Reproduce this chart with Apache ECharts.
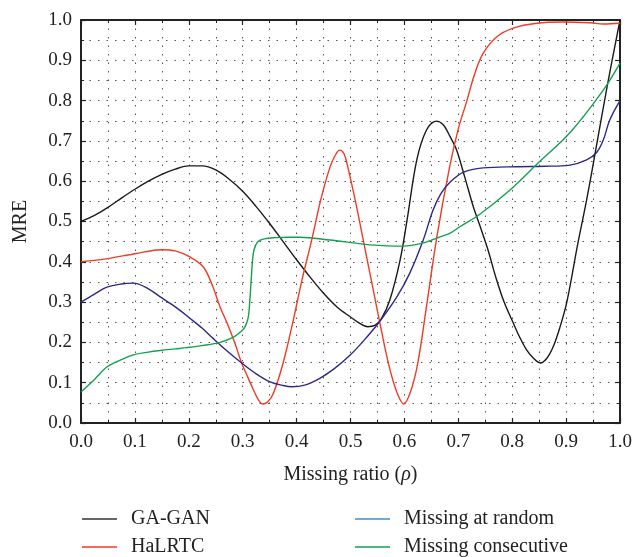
<!DOCTYPE html>
<html>
<head>
<meta charset="utf-8">
<script src="https://cdn.jsdelivr.net/npm/echarts@6/dist/echarts.min.js"></script>
<style>html,body{margin:0;padding:0;background:#fff;}#c{width:644px;height:557px;}</style>
</head>
<body>
<div id="c"></div>
<script>
const seriesNames = ['GA-GAN', 'HaLRTC', 'Missing at random', 'Missing consecutive'];
const xTicks = [0, 0.1, 0.2, 0.3, 0.4, 0.5, 0.6, 0.7, 0.8, 0.9, 1.0];

const gaGan = [
  [0.000,0.500],[0.025,0.515],[0.050,0.535],[0.075,0.558],[0.100,0.580],[0.125,0.600],
  [0.150,0.617],[0.175,0.630],[0.200,0.638],[0.225,0.638],[0.250,0.628],[0.275,0.605],
  [0.300,0.575],[0.325,0.537],[0.350,0.495],[0.375,0.450],[0.400,0.405],[0.425,0.362],
  [0.450,0.322],[0.475,0.288],[0.500,0.263],[0.515,0.249],[0.532,0.239],[0.545,0.242],
  [0.557,0.258],[0.573,0.305],[0.592,0.404],[0.605,0.504],[0.623,0.653],[0.641,0.727],
  [0.659,0.749],[0.672,0.740],[0.685,0.710],[0.697,0.677],[0.712,0.610],[0.728,0.536],
  [0.740,0.490],[0.755,0.430],[0.770,0.360],[0.785,0.300],[0.802,0.248],[0.815,0.210],
  [0.827,0.181],[0.840,0.160],[0.852,0.149],[0.864,0.160],[0.876,0.189],[0.888,0.235],
  [0.901,0.298],[0.922,0.447],[0.938,0.553],[0.954,0.670],[0.976,0.834],[1.000,1.000]
];
const halrtc = [
  [0.000,0.400],[0.050,0.408],[0.100,0.420],[0.150,0.430],[0.175,0.427],[0.202,0.412],
  [0.227,0.387],[0.245,0.337],[0.258,0.288],[0.271,0.248],[0.285,0.200],[0.298,0.149],
  [0.310,0.112],[0.320,0.082],[0.329,0.058],[0.337,0.047],[0.346,0.052],[0.357,0.074],
  [0.375,0.149],[0.394,0.256],[0.410,0.355],[0.428,0.454],[0.445,0.555],[0.462,0.635],
  [0.472,0.665],[0.480,0.677],[0.488,0.668],[0.495,0.635],[0.510,0.545],[0.525,0.445],
  [0.540,0.345],[0.555,0.245],[0.570,0.150],[0.585,0.080],[0.599,0.047],[0.612,0.080],
  [0.625,0.150],[0.640,0.280],[0.660,0.460],[0.684,0.636],[0.700,0.730],[0.716,0.800],
  [0.730,0.865],[0.746,0.917],[0.771,0.958],[0.802,0.980],[0.846,0.992],[0.894,0.995],
  [0.944,0.993],[0.969,0.990],[1.000,0.992]
];
const missingRandom = [
  [0.000,0.300],[0.025,0.320],[0.048,0.337],[0.075,0.345],[0.097,0.347],[0.125,0.333],
  [0.147,0.313],[0.175,0.288],[0.202,0.260],[0.225,0.235],[0.245,0.210],[0.270,0.180],
  [0.298,0.149],[0.325,0.122],[0.351,0.102],[0.375,0.093],[0.391,0.090],[0.415,0.094],
  [0.443,0.111],[0.470,0.135],[0.499,0.168],[0.525,0.205],[0.553,0.250],[0.586,0.313],
  [0.610,0.372],[0.635,0.454],[0.653,0.528],[0.668,0.570],[0.685,0.598],[0.709,0.622],
  [0.746,0.633],[0.808,0.636],[0.860,0.637],[0.907,0.640],[0.938,0.653],[0.957,0.672],
  [0.969,0.702],[0.981,0.752],[1.000,0.800]
];
const missingConsecutive = [
  [0.000,0.077],[0.025,0.108],[0.048,0.139],[0.075,0.157],[0.097,0.169],[0.125,0.176],
  [0.147,0.180],[0.175,0.184],[0.196,0.187],[0.225,0.192],[0.258,0.200],[0.283,0.213],
  [0.296,0.226],[0.304,0.238],[0.310,0.260],[0.313,0.300],[0.316,0.360],[0.318,0.400],
  [0.321,0.430],[0.328,0.450],[0.340,0.457],[0.360,0.460],[0.385,0.461],[0.406,0.461],
  [0.462,0.454],[0.505,0.447],[0.536,0.442],[0.597,0.439],[0.635,0.447],[0.666,0.462],
  [0.685,0.471],[0.703,0.487],[0.740,0.518],[0.796,0.578],[0.848,0.645],[0.907,0.720],
  [0.969,0.826],[1.000,0.893]
];

const FONT = '"Liberation Serif", "DejaVu Serif", serif';
const lineColors = ['#1a1a1a', '#ef3b24', '#2d2a87', '#13a150'];
const legendColors = ['#333333', '#ef3b24', '#3b8fd9', '#13a150'];
const dataSets = [gaGan, halrtc, missingRandom, missingConsecutive];

const gridDots = { show: true, lineStyle: { color: '#555', width: 1, type: [1.5, 7] } };

function mainAxis(pos, extra) {
  return Object.assign({
    type: 'value', position: pos, min: 0, max: 1, interval: 0.1,
    axisLine: { show: true, onZero: false, lineStyle: { color: '#222', width: 2 } },
    axisTick: { show: true, inside: true, length: 5, lineStyle: { color: '#222', width: 1.2 } },
    minorTick: { show: true, splitNumber: 2, length: 3, lineStyle: { color: '#222', width: 1 } },
    splitLine: gridDots,
    minorSplitLine: gridDots
  }, extra || {});
}
function mirrorAxis(pos) {
  return {
    type: 'value', position: pos, min: 0, max: 1, interval: 0.1,
    axisLine: { show: true, onZero: false, lineStyle: { color: '#222', width: 2 } },
    axisTick: { show: true, inside: true, length: 5, lineStyle: { color: '#222', width: 1.2 } },
    minorTick: { show: true, splitNumber: 2, length: 3, lineStyle: { color: '#222', width: 1 } },
    splitLine: { show: false }, minorSplitLine: { show: false },
    axisLabel: { show: false }
  };
}

function legendBlock(names, left) {
  return {
    data: names, orient: 'vertical', left: left, top: 509, padding: 0,
    icon: 'rect', itemWidth: 35, itemHeight: 1.5, itemGap: 8,
    textStyle: { fontFamily: FONT, fontSize: 20, color: '#222', lineHeight: 20, padding: [0, 0, 0, 9] }
  };
}

const chart = echarts.init(document.getElementById('c'), null, { renderer: 'canvas' });
chart.setOption({
  animation: false,
  backgroundColor: '#fff',
  grid: { left: 81, right: 24, top: 20, bottom: 134 },
  xAxis: [
    mainAxis('bottom', {
      name: '{n|Missing ratio (}{i|ρ}{n|)}', nameLocation: 'middle', nameGap: 42,
      nameTextStyle: { rich: { n: { fontFamily: FONT, fontSize: 20, color: '#222' }, i: { fontFamily: FONT, fontSize: 20, fontStyle: 'italic', color: '#222' } } },
      axisLabel: { show: true, fontFamily: FONT, fontSize: 19, color: '#222', margin: 10, formatter: v => v.toFixed(1) }
    }),
    mirrorAxis('top')
  ],
  yAxis: [
    mainAxis('left', {
      name: 'MRE', nameLocation: 'middle', nameGap: 50,
      nameTextStyle: { fontFamily: FONT, fontSize: 20, color: '#222' },
      axisLabel: { show: true, fontFamily: FONT, fontSize: 19, color: '#222', margin: 9, formatter: v => v.toFixed(1) }
    }),
    mirrorAxis('right')
  ],
  legend: [
    legendBlock([seriesNames[0], seriesNames[1]], 82),
    legendBlock([seriesNames[2], seriesNames[3]], 355)
  ],
  series: seriesNames.map((nm, i) => ({
    name: nm, type: 'line', data: dataSets[i], xAxisIndex: 0, yAxisIndex: 0,
    smooth: 0.35, showSymbol: false, symbol: 'none',
    itemStyle: { color: legendColors[i] },
    lineStyle: { color: lineColors[i], width: 1.4 },
    z: 3 + i
  }))
});
</script>
</body>
</html>
